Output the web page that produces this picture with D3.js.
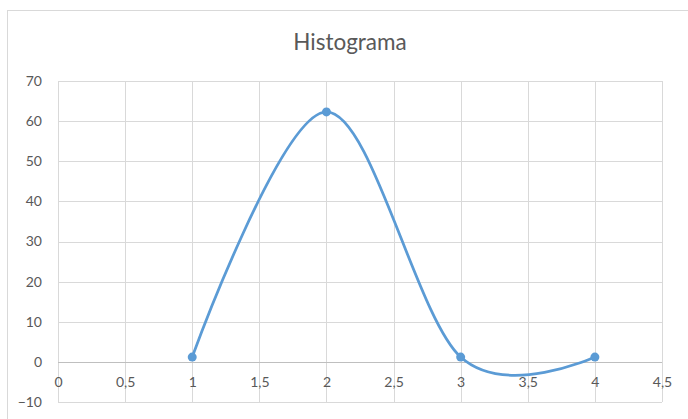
<!DOCTYPE html>
<html>
<head>
<meta charset="utf-8">
<script src="https://cdn.jsdelivr.net/npm/d3@7"></script>
<style>
  body { margin: 0; background: #fff; }
  svg { display: block; font-family: Lato, "Open Sans", sans-serif; }
</style>
</head>
<body>
<div id="graph"></div>
<script>
const xValues = [1, 2, 3, 4];
const yValues = [1.2, 62.3, 1.2, 1.2];
const xTicks = [0, 0.5, 1, 1.5, 2, 2.5, 3, 3.5, 4, 4.5];
const yTicks = [-10, 0, 10, 20, 30, 40, 50, 60, 70];

const width = 688;
const height = 419;
const plot = { left: 58, right: 662, top: 81, bottom: 402 };

const blue = "#5b9bd5";
const grid = "#d9d9d9";
const textColor = "#595959";

let data = xValues.map((x, i) => ({ x: x, y: yValues[i] }));
let fmt = d => String(d).replace(".", ",");

let svg = d3.select('#graph')
  .append('svg')
  .attr('width', width)
  .attr('height', height);

// chart frame
svg.append('rect')
  .attr('x', 7.5)
  .attr('y', 10.5)
  .attr('width', width)
  .attr('height', height)
  .attr('fill', 'none')
  .attr('stroke', grid);

let xScale = d3.scaleLinear()
  .domain([0, 4.5])
  .range([plot.left, plot.right]);

let yScale = d3.scaleLinear()
  .domain([-10, 70])
  .range([plot.bottom, plot.top]);

// gridlines
let gridG = svg.append('g').attr('class', 'grid');
gridG.selectAll('.vgrid').data(xTicks)
  .enter().append('line')
  .attr('x1', d => Math.round(xScale(d)) + 0.5)
  .attr('x2', d => Math.round(xScale(d)) + 0.5)
  .attr('y1', plot.top)
  .attr('y2', plot.bottom)
  .attr('stroke', grid);
gridG.selectAll('.hgrid').data(yTicks)
  .enter().append('line')
  .attr('x1', plot.left)
  .attr('x2', plot.right)
  .attr('y1', d => Math.round(yScale(d)) + 0.5)
  .attr('y2', d => Math.round(yScale(d)) + 0.5)
  .attr('stroke', d => d === 0 ? "#bfbfbf" : grid);

// y axis labels
let yAxis = d3.axisLeft(yScale)
  .tickValues(yTicks)
  .tickSize(0)
  .tickPadding(16);
let yG = svg.append('g')
  .attr('transform', `translate(${plot.left}, 0)`)
  .call(yAxis);
yG.select('.domain').remove();

// x axis labels, crossing at y = 0
let xAxis = d3.axisBottom(xScale)
  .tickValues(xTicks)
  .tickFormat(fmt)
  .tickSize(0)
  .tickPadding(15);
let xG = svg.append('g')
  .attr('transform', `translate(0, ${Math.round(yScale(0))})`)
  .call(xAxis);
xG.select('.domain').remove();

svg.selectAll('.tick text')
  .style('font-size', '14px')
  .style('font-family', 'Lato, "Open Sans", sans-serif')
  .attr('fill', textColor);

// title
svg.append('text')
  .attr('x', 350)
  .attr('y', 50)
  .attr('text-anchor', 'middle')
  .attr('fill', textColor)
  .style('font-size', '22.5px')
  .text('Histograma');

// smoothed line
svg.append('path')
  .datum(data)
  .attr('fill', 'none')
  .attr('stroke', blue)
  .attr('stroke-width', 2.75)
  .attr('stroke-linecap', 'round')
  .attr('d', d3.line()
    .x(d => xScale(d.x))
    .y(d => yScale(d.y))
    .curve(d3.curveCardinal.tension(0)));

svg.selectAll('.dot').data(data)
  .enter().append('circle')
  .attr('class', 'dot')
  .attr('cx', d => xScale(d.x))
  .attr('cy', d => yScale(d.y))
  .attr('r', 4.5)
  .attr('fill', blue);
</script>
</body>
</html>
